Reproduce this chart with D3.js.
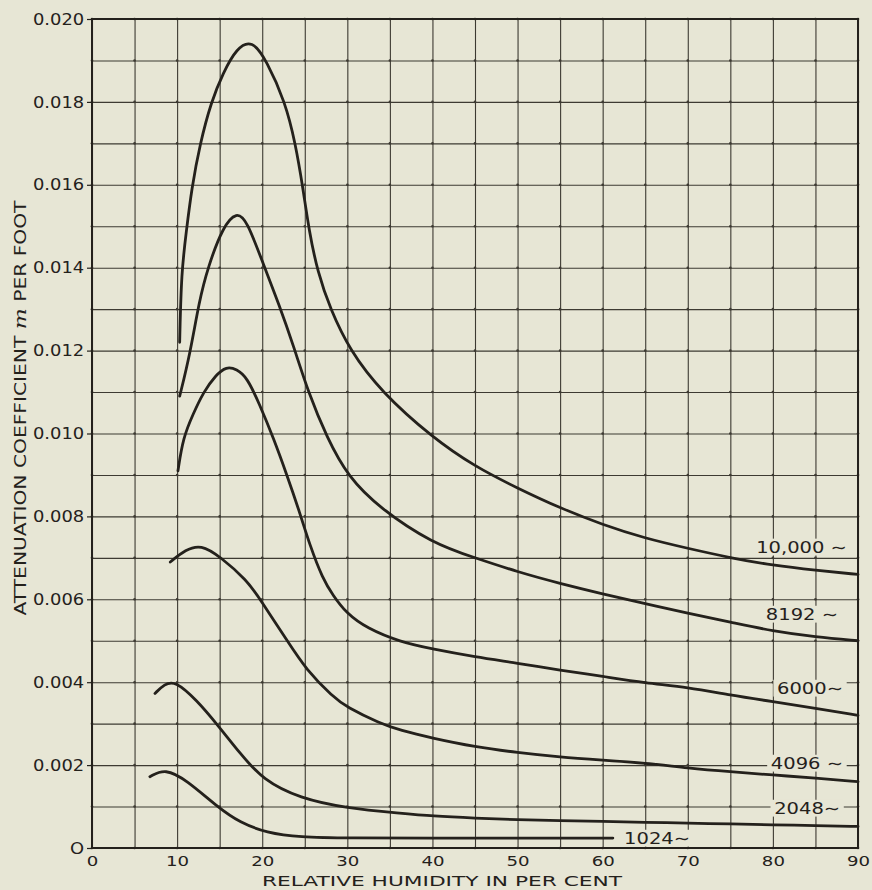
<!DOCTYPE html>
<html>
<head>
<meta charset="utf-8">
<script src="https://cdn.jsdelivr.net/npm/d3@7"></script>
<style>
  html, body { margin: 0; padding: 0; background: #e7e6d5; }
  svg { display: block; }
</style>
</head>
<body>
<svg id="chart" width="872" height="890"></svg>
<script>
// ---------------- DATA ----------------
const humidity10000 = [10.3, 10.5, 11.1, 11.7, 12.7, 14.0, 15.4, 17.0, 18.8, 20.5, 22.7, 23.9, 24.8, 25.5, 26.5, 28.0, 30.3, 34.0, 40, 45, 50, 55, 60, 65, 70, 75, 80, 85, 90];
const coeff10000    = [0.0122, 0.0139, 0.0149, 0.0159, 0.0170, 0.0180, 0.0187, 0.0193, 0.01950, 0.0190, 0.0180, 0.0170, 0.0159, 0.0149, 0.0139, 0.0130, 0.0120, 0.0110, 0.0099, 0.0092, 0.00868, 0.0082, 0.0078, 0.00747, 0.00723, 0.0070, 0.00682, 0.0067, 0.0066];

const humidity8192 = [10.3, 11.5, 12.6, 13.6, 15.4, 17.0, 18.2, 20.1, 22.0, 23.7, 25.4, 27.6, 30.1, 33.8, 40, 45, 50, 55, 60, 65, 70, 75, 80, 85, 90];
const coeff8192    = [0.0109, 0.0119, 0.0132, 0.0140, 0.0150, 0.01535, 0.01514, 0.0141, 0.0131, 0.0121, 0.0110, 0.0099, 0.00895, 0.0082, 0.00735, 0.0070, 0.00666, 0.00638, 0.00613, 0.0059, 0.00566, 0.00545, 0.00523, 0.00509, 0.0050];

const humidity6000 = [10.1, 10.7, 11.9, 13.1, 14.5, 15.8, 17.0, 18.2, 19.7, 21.3, 22.9, 24.4, 25.6, 27.1, 28.3, 29.9, 32.3, 36.2, 40, 45, 50, 55, 60, 65, 70, 75, 80, 85, 90];
const coeff6000    = [0.0091, 0.0099, 0.01048, 0.0110, 0.0114, 0.01162, 0.01155, 0.01136, 0.0107, 0.0099, 0.0090, 0.0081, 0.0073, 0.0065, 0.0061, 0.00566, 0.0053, 0.00497, 0.0048, 0.00461, 0.00446, 0.00429, 0.00414, 0.00398, 0.00388, 0.00369, 0.00353, 0.00337, 0.0032];

const humidity4096 = [9.2, 11.0, 12.8, 15.0, 18.2, 19.7, 22.9, 25.2, 28.3, 29.9, 33.8, 36.2, 40, 45, 50, 55, 60, 65, 70, 75, 80, 85, 90];
const coeff4096    = [0.0069, 0.0072, 0.00732, 0.00704, 0.00646, 0.00602, 0.00501, 0.00429, 0.00365, 0.0034, 0.00301, 0.00284, 0.00265, 0.00244, 0.0023, 0.00219, 0.00212, 0.00205, 0.00193, 0.00184, 0.00176, 0.00169, 0.0016];

const humidity2048 = [7.4, 8.5, 9.75, 12.3, 14.8, 17.4, 20.1, 24.4, 29.9, 36.2, 40, 45, 50, 55, 60, 65, 70, 75, 80, 85, 90];
const coeff2048    = [0.00373, 0.00395, 0.00404, 0.00357, 0.00296, 0.00228, 0.00164, 0.0012, 0.00096, 0.00084, 0.00077, 0.00072, 0.00068, 0.00066, 0.00064, 0.00062, 0.0006, 0.00058, 0.00056, 0.00054, 0.00052];

const humidity1024 = [6.8, 8.6, 11.1, 14.8, 17.4, 20.5, 24.4, 30, 40, 50, 61.2];
const coeff1024    = [0.00172, 0.00192, 0.00164, 0.00098, 0.00061, 0.00037, 0.00026, 0.00024, 0.00024, 0.00024, 0.00024];

const seriesNames = ["10,000 \u223C", "8192 \u223C", "6000\u223C", "4096 \u223C", "2048\u223C", "1024\u223C"];

const xTickValues = [0, 10, 20, 30, 40, 50, 60, 70, 80, 90];
const xTickLabels = ["0", "10", "20", "30", "40", "50", "60", "70", "80", "90"];
const yTickValues = [0, 0.002, 0.004, 0.006, 0.008, 0.010, 0.012, 0.014, 0.016, 0.018, 0.020];
const yTickLabels = ["O", "0.002", "0.004", "0.006", "0.008", "0.010", "0.012", "0.014", "0.016", "0.018", "0.020"];

const xTitle = "RELATIVE HUMIDITY IN PER CENT";
const yTitleParts = ["ATTENUATION COEFFICIENT ", "m", " PER FOOT"];

// ---------------- LAYOUT / STYLE ----------------
const BG = "#e7e6d5";
const INK = "#24211c";
const GRID = "#3d3a32";
const FONT = "'DejaVu Sans', sans-serif";

const svg = d3.select("#chart");
svg.append("rect").attr("width", 872).attr("height", 890).attr("fill", BG);

const x = d3.scaleLinear().domain([0, 90]).range([92, 858]);
const y = d3.scaleLinear().domain([0, 0.020]).range([848, 19]);

// grid via axes
const gridX = d3.range(0, 90.001, 5);
const gridY = d3.range(0, 0.02001, 0.001);

const gx = svg.append("g").attr("transform", `translate(0,${y(0)})`)
  .call(d3.axisBottom(x).tickValues(gridX).tickSize(-(y(0) - y(0.02))).tickFormat(""));
gx.select(".domain").remove();
gx.selectAll("line").attr("stroke", GRID).attr("stroke-width", 1.1);

const gy = svg.append("g").attr("transform", `translate(${x(0)},0)`)
  .call(d3.axisLeft(y).tickValues(gridY).tickSize(-(x(90) - x(0))).tickFormat(""));
gy.select(".domain").remove();
gy.selectAll("line").attr("stroke", GRID).attr("stroke-width", 1.1);

// intersection dots
const dots = [];
gridX.forEach(a => gridY.forEach(b => dots.push([a, b])));
svg.append("g").selectAll("circle").data(dots).join("circle")
  .attr("cx", d => x(d[0])).attr("cy", d => y(d[1])).attr("r", 1.3).attr("fill", GRID);

// border
svg.append("rect")
  .attr("x", x(0)).attr("y", y(0.02))
  .attr("width", x(90) - x(0)).attr("height", y(0) - y(0.02))
  .attr("fill", "none").attr("stroke", INK).attr("stroke-width", 2);

// y axis labels
const yAxis = svg.append("g").attr("transform", `translate(${x(0)},0)`)
  .call(d3.axisLeft(y).tickValues(yTickValues)
    .tickFormat((d, i) => yTickLabels[i]).tickSize(5).tickPadding(2));
yAxis.select(".domain").remove();
yAxis.selectAll("line").attr("stroke", INK).attr("stroke-width", 1.2);
yAxis.selectAll("text")
  .attr("font-family", FONT).attr("font-size", 16).attr("fill", INK)
  .attr("transform", "scale(1.12,1)");

// x axis labels
const xAxis = svg.append("g").attr("transform", `translate(0,${y(0)})`)
  .call(d3.axisBottom(x).tickValues(xTickValues)
    .tickFormat((d, i) => xTickLabels[i]).tickSize(0).tickPadding(8));
xAxis.select(".domain").remove();
xAxis.selectAll("text")
  .attr("font-family", FONT).attr("font-size", 14.5).attr("fill", INK)
  .attr("transform", "scale(1.25,1)");

// curves
const series = [
  [humidity10000, coeff10000],
  [humidity8192, coeff8192],
  [humidity6000, coeff6000],
  [humidity4096, coeff4096],
  [humidity2048, coeff2048],
  [humidity1024, coeff1024]
];
const line = d3.line().x(d => x(d[0])).y(d => y(d[1])).curve(d3.curveBasis);
svg.append("g").selectAll("path").data(series).join("path")
  .attr("d", s => line(s[0].map((h, i) => [h, s[1][i]])))
  .attr("fill", "none").attr("stroke", INK).attr("stroke-width", 2.8)
  .attr("stroke-linecap", "round").attr("stroke-linejoin", "round");

// curve labels (right edge / baseline, in data units)
const labelPlacement = [[88.7, 0.00712], [87.65, 0.0055], [88.24, 0.003715], [88.24, 0.001906], [87.9, 0.00082], [70.27, 0.0000965]];
seriesNames.forEach((name, i) => {
  const g = svg.append("g")
    .attr("transform", `translate(${x(labelPlacement[i][0])},${y(labelPlacement[i][1])}) scale(1.22,1)`);
  const bg = g.append("rect").attr("fill", BG);
  const t = g.append("text").attr("text-anchor", "end")
    .attr("font-family", FONT).attr("font-size", 16).attr("fill", INK).text(name);
  const bb = t.node().getBBox();
  bg.attr("x", bb.x - 3).attr("y", bb.y + 1).attr("width", bb.width + 6).attr("height", bb.height - 2);
});

// axis titles
svg.append("text")
  .attr("x", 442).attr("y", 885.5).attr("text-anchor", "middle")
  .attr("font-family", FONT).attr("font-size", 14.5).attr("fill", INK)
  .attr("textLength", 360).attr("lengthAdjust", "spacingAndGlyphs")
  .text(xTitle);

const yt = svg.append("text")
  .attr("transform", "translate(26,408) rotate(-90)")
  .attr("text-anchor", "middle")
  .attr("font-family", FONT).attr("font-size", 15.5).attr("fill", INK)
  .attr("textLength", 415).attr("lengthAdjust", "spacingAndGlyphs");
yt.append("tspan").text(yTitleParts[0]);
yt.append("tspan").attr("font-family", "'DejaVu Serif', serif").attr("font-style", "italic").attr("font-size", 17).text(yTitleParts[1]);
yt.append("tspan").text(yTitleParts[2]);
</script>
</body>
</html>
